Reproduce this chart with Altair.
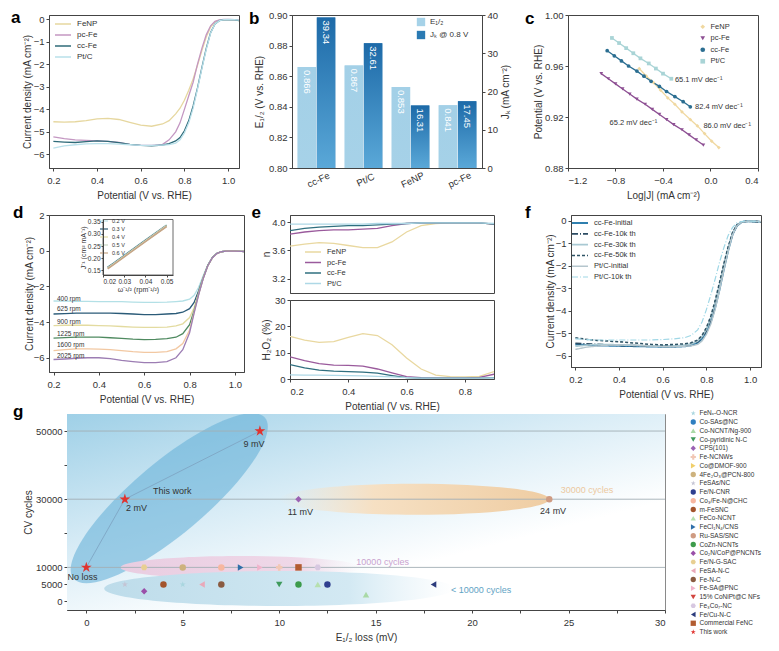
import altair as alt
import pandas as pd

FONT = "Liberation Sans"
INK = "#333333"
FRAME = "#444444"

SAMPLES = ["FeNP", "pc-Fe", "cc-Fe", "Pt/C"]

# ---------------- (a) LSV ----------------
A_POT = [0.2, 0.25, 0.3, 0.35, 0.4, 0.45, 0.5, 0.55, 0.6, 0.65, 0.7, 0.73, 0.76, 0.78, 0.8,
         0.82, 0.84, 0.86, 0.88, 0.9, 0.92, 0.94, 0.96, 0.98, 1.0, 1.03, 1.05]
A_FENP = [-4.55, -4.57, -4.55, -4.5, -4.42, -4.4, -4.45, -4.58, -4.7, -4.75, -4.65, -4.5, -4.2, -3.95,
          -3.6, -3.15, -2.65, -2.05, -1.4, -0.8, -0.35, -0.12, -0.05, -0.04, -0.04, -0.05, -0.07]
A_PCFE = [-5.22, -5.3, -5.35, -5.38, -5.4, -5.42, -5.47, -5.55, -5.6, -5.6, -5.55, -5.35, -5.0, -4.6,
          -4.0, -3.4, -2.8, -2.0, -1.3, -0.7, -0.3, -0.1, -0.04, -0.02, -0.02, -0.03, -0.05]
A_CCFE = [-5.42, -5.45, -5.47, -5.43, -5.4, -5.42, -5.48, -5.55, -5.6, -5.62, -5.58, -5.52, -5.4, -5.25,
          -4.95, -4.5, -3.85, -3.05, -2.15, -1.3, -0.6, -0.22, -0.07, -0.03, -0.03, -0.04, -0.07]
A_PTC = [-5.72, -5.62, -5.57, -5.53, -5.52, -5.52, -5.54, -5.57, -5.6, -5.6, -5.58, -5.56, -5.5, -5.35,
         -5.05, -4.6, -3.95, -3.1, -2.2, -1.35, -0.62, -0.22, -0.07, -0.03, -0.02, -0.03, -0.05]
A_COLORS = ["#e6d79f", "#c497c2", "#2f6b79", "#b9e0ea"]
A_XTICKS = [0.2, 0.4, 0.6, 0.8, 1.0]
A_YTICKS = [0, -1, -2, -3, -4, -5, -6]

# ---------------- (b) bars ----------------
B_CATS = ["cc-Fe", "Pt/C", "FeNP", "pc-Fe"]
B_E = [0.866, 0.867, 0.853, 0.841]
B_J = [39.34, 32.61, 16.31, 17.45]
B_E_LABELS = ["0.866", "0.867", "0.853", "0.841"]
B_J_LABELS = ["39.34", "32.61", "16.31", "17.45"]
B_E_TICKS = [0.80, 0.82, 0.84, 0.86, 0.88, 0.90]
B_J_TICKS = [0, 10, 20, 30, 40]
E_NAME = "E₁/₂"
J_NAME = "Jₖ @ 0.8 V"

# ---------------- (c) Tafel ----------------
C_FENP_X = [-0.60, -0.54, -0.48, -0.42, -0.36, -0.30, -0.24, -0.17, -0.11, -0.05, 0.01, 0.07]
C_FENP_Y = [0.958, 0.952, 0.947, 0.941, 0.935, 0.930, 0.924, 0.918, 0.913, 0.907, 0.901, 0.896]
C_PCFE_X = [-0.92, -0.86, -0.80, -0.74, -0.68, -0.62, -0.55, -0.49, -0.43, -0.37, -0.31, -0.24, -0.18, -0.12, -0.06]
C_PCFE_Y = [0.954, 0.950, 0.946, 0.942, 0.938, 0.934, 0.930, 0.926, 0.922, 0.918, 0.914, 0.910, 0.906, 0.902, 0.898]
C_CCFE_X = [-0.87, -0.81, -0.75, -0.69, -0.62, -0.56, -0.50, -0.43, -0.37, -0.30, -0.23, -0.17]
C_CCFE_Y = [0.972, 0.968, 0.964, 0.960, 0.956, 0.952, 0.948, 0.944, 0.940, 0.936, 0.932, 0.928]
C_PTC_X = [-0.83, -0.77, -0.71, -0.65, -0.59, -0.52, -0.46, -0.40, -0.33]
C_PTC_Y = [0.982, 0.978, 0.974, 0.970, 0.966, 0.962, 0.958, 0.954, 0.950]
C_COLORS = ["#f0d8a0", "#8d4f93", "#2b6e91", "#a9d4d6"]
C_SHAPES = ["diamond", "triangle-down", "circle", "square"]
C_SLOPE_TXT = ["65.1 mV dec⁻¹", "82.4 mV dec⁻¹", "86.0 mV dec⁻¹", "65.2 mV dec⁻¹"]
C_SLOPE_X = [-0.30, -0.13, -0.06, -0.85]
C_SLOPE_Y = [0.949, 0.928, 0.913, 0.915]
C_XTICKS = [-1.2, -0.8, -0.4, 0.0, 0.4]
C_YTICKS = [0.88, 0.92, 0.96, 1.00]

# ---------------- (d) RDE ----------------
D_POT = [0.2, 0.25, 0.3, 0.35, 0.4, 0.45, 0.5, 0.55, 0.6, 0.65, 0.7, 0.74, 0.77, 0.8, 0.82,
         0.84, 0.86, 0.88, 0.9, 0.92, 0.94, 0.96, 0.98, 1.0, 1.03, 1.05]
D_400 = [-2.82, -2.83, -2.84, -2.84, -2.85, -2.85, -2.86, -2.88, -2.9, -2.9, -2.88, -2.85, -2.82, -2.72,
         -2.5, -2.05, -1.4, -0.8, -0.38, -0.15, -0.06, -0.03, -0.03, -0.03, -0.04, -0.05]
D_625 = [-3.55, -3.53, -3.5, -3.5, -3.5, -3.5, -3.52, -3.55, -3.58, -3.58, -3.55, -3.52, -3.45, -3.25,
         -2.9, -2.25, -1.5, -0.83, -0.39, -0.15, -0.06, -0.03, -0.03, -0.03, -0.04, -0.05]
D_900 = [-4.2, -4.18, -4.17, -4.18, -4.2, -4.22, -4.25, -4.28, -4.3, -4.3, -4.28, -4.22, -4.1, -3.75,
         -3.2, -2.35, -1.52, -0.84, -0.4, -0.16, -0.06, -0.03, -0.03, -0.03, -0.04, -0.05]
D_1225 = [-4.9, -4.87, -4.85, -4.84, -4.85, -4.88, -4.92, -4.96, -4.98, -4.97, -4.93, -4.85, -4.65, -4.15,
          -3.35, -2.42, -1.55, -0.85, -0.4, -0.16, -0.06, -0.03, -0.03, -0.03, -0.04, -0.05]
D_1600 = [-5.6, -5.55, -5.5, -5.5, -5.52, -5.55, -5.6, -5.66, -5.7, -5.7, -5.66, -5.5, -5.2, -4.45,
          -3.45, -2.45, -1.56, -0.86, -0.41, -0.16, -0.06, -0.03, -0.03, -0.03, -0.04, -0.05]
D_2025 = [-6.1, -6.07, -6.03, -6.0, -6.0, -6.05, -6.15, -6.22, -6.28, -6.28, -6.22, -6.0, -5.55, -4.6,
          -3.5, -2.47, -1.57, -0.86, -0.41, -0.16, -0.06, -0.03, -0.03, -0.03, -0.04, -0.05]
D_RPM = ["400 rpm", "625 rpm", "900 rpm", "1225 rpm", "1600 rpm", "2025 rpm"]
D_COLORS = ["#b3e0e6", "#2b5b78", "#e3dba0", "#4f8a60", "#f2c8a2", "#9c7db3"]
D_LABEL_X = [0.215, 0.215, 0.215, 0.215, 0.215, 0.215]
D_LABEL_Y = [-2.72, -3.27, -4.02, -4.66, -5.31, -5.91]
D_XTICKS = [0.2, 0.4, 0.6, 0.8, 1.0]
D_YTICKS = [2, 0, -2, -4, -6]
# inset (K-L plot)
INS_W = [0.0222, 0.025, 0.0286, 0.0333, 0.04, 0.05]
INS_02 = [0.163, 0.180, 0.203, 0.233, 0.275, 0.338]
INS_03 = [0.161, 0.178, 0.201, 0.231, 0.273, 0.336]
INS_04 = [0.159, 0.176, 0.199, 0.229, 0.271, 0.334]
INS_05 = [0.158, 0.175, 0.198, 0.228, 0.270, 0.333]
INS_06 = [0.156, 0.173, 0.196, 0.226, 0.268, 0.331]
INS_NAMES = ["0.2 V", "0.3 V", "0.4 V", "0.5 V", "0.6 V"]
INS_COLORS = ["#bfe2e8", "#2d5b73", "#e2dba2", "#c9d6c4", "#c6a586"]
INS_XDOM = [0.02, 0.053]
INS_YDOM = [0.13, 0.36]
INS_XTICKS = [0.02, 0.03, 0.04, 0.05]
INS_YTICKS = [0.15, 0.20, 0.25, 0.30, 0.35]

# ---------------- (e) RRDE ----------------
E_POT = [0.2, 0.25, 0.3, 0.35, 0.4, 0.45, 0.5, 0.55, 0.6, 0.65, 0.7, 0.75, 0.8, 0.85, 0.9]
E_N_FENP = [3.66, 3.69, 3.71, 3.70, 3.67, 3.64, 3.64, 3.72, 3.86, 3.95, 3.98, 3.99, 3.99, 3.99, 3.97]
E_N_PCFE = [3.83, 3.86, 3.88, 3.89, 3.89, 3.90, 3.91, 3.95, 3.98, 3.99, 3.99, 3.99, 3.99, 3.99, 3.97]
E_N_CCFE = [3.88, 3.91, 3.93, 3.94, 3.95, 3.95, 3.96, 3.97, 3.98, 3.99, 3.99, 3.99, 3.99, 3.99, 3.97]
E_N_PTC = [3.97, 3.97, 3.97, 3.97, 3.97, 3.97, 3.98, 3.98, 3.98, 3.99, 3.99, 3.99, 3.99, 3.99, 3.98]
E_H_FENP = [16.2, 14.8, 13.9, 14.2, 15.8, 17.2, 16.5, 13.0, 8.0, 3.8, 1.5, 0.9, 0.8, 1.0, 2.8]
E_H_PCFE = [8.4, 7.0, 5.8, 5.3, 5.2, 4.9, 3.8, 2.3, 0.9, 0.5, 0.4, 0.4, 0.4, 0.6, 1.8]
E_H_CCFE = [5.5, 4.2, 3.4, 3.0, 2.8, 2.6, 2.2, 1.3, 0.5, 0.3, 0.3, 0.3, 0.3, 0.3, 0.5]
E_H_PTC = [1.6, 1.5, 1.5, 1.4, 1.3, 1.2, 1.0, 0.8, 0.5, 0.3, 0.3, 0.3, 0.3, 0.3, 0.4]
E_COLORS = ["#e9d8a0", "#9a5a9c", "#2f6f7f", "#aed8e6"]
E_XTICKS = [0.2, 0.4, 0.6, 0.8]
E_NTICKS = [3.2, 3.6, 4.0]
E_HTICKS = [0, 10, 20, 30]

# ---------------- (f) stability ----------------
F_POT = A_POT
F_CC0 = [-5.5, -5.52, -5.54, -5.55, -5.56, -5.57, -5.58, -5.59, -5.6, -5.6, -5.58, -5.54, -5.42, -5.25,
         -4.95, -4.5, -3.85, -3.05, -2.15, -1.3, -0.6, -0.22, -0.07, -0.03, -0.03, -0.04, -0.06]
F_CC10 = [-5.45, -5.48, -5.5, -5.52, -5.54, -5.55, -5.56, -5.57, -5.58, -5.58, -5.55, -5.5, -5.38, -5.2,
          -4.88, -4.4, -3.75, -2.95, -2.05, -1.25, -0.57, -0.2, -0.07, -0.03, -0.03, -0.04, -0.06]
F_CC30 = [-5.58, -5.53, -5.5, -5.5, -5.52, -5.53, -5.55, -5.56, -5.57, -5.56, -5.53, -5.48, -5.35, -5.15,
          -4.82, -4.32, -3.65, -2.85, -2.0, -1.2, -0.55, -0.2, -0.07, -0.03, -0.03, -0.04, -0.06]
F_CC50 = [-5.2, -5.27, -5.32, -5.35, -5.38, -5.42, -5.46, -5.5, -5.52, -5.5, -5.47, -5.42, -5.3, -5.1,
          -4.75, -4.25, -3.55, -2.75, -1.9, -1.15, -0.52, -0.19, -0.07, -0.03, -0.03, -0.04, -0.06]
F_PT0 = [-5.72, -5.62, -5.57, -5.53, -5.52, -5.52, -5.54, -5.57, -5.6, -5.6, -5.58, -5.56, -5.5, -5.35,
         -5.05, -4.6, -3.95, -3.1, -2.2, -1.35, -0.62, -0.22, -0.07, -0.03, -0.02, -0.03, -0.05]
F_PT10 = [-5.25, -5.28, -5.3, -5.3, -5.3, -5.3, -5.3, -5.3, -5.28, -5.25, -5.2, -5.1, -4.85, -4.5,
          -3.95, -3.3, -2.6, -1.85, -1.2, -0.65, -0.3, -0.1, -0.04, -0.02, -0.02, -0.03, -0.05]
F_NAMES = ["cc-Fe-initial", "cc-Fe-10k th", "cc-Fe-30k th", "cc-Fe-50k th", "Pt/C-initial", "Pt/C-10k th"]
F_COLORS = ["#2f7fae", "#2c4c63", "#a9c9d3", "#2f5466", "#b5c6cd", "#9fd7e6"]
F_DASH = [[1, 0], [6, 2, 1, 2], [1, 0], [3, 2], [1, 0], [6, 2, 1, 2]]
F_WIDTH = [2.0, 1.2, 1.2, 1.2, 1.2, 1.2]

# ---------------- (g) comparison ----------------
STAR = "M0,-1L0.2245,-0.309L0.951,-0.309L0.363,0.118L0.588,0.809L0,0.382L-0.588,0.809L-0.363,0.118L-0.951,-0.309L-0.2245,-0.309Z"
HEX = "M1,0L0.5,0.866L-0.5,0.866L-1,0L-0.5,-0.866L0.5,-0.866Z"
G_MATERIALS = ["FeNₓ-O-NCR", "Co-SAs@NC", "Co-NCNT/Ng-900", "Co-pyridinic N-C", "CPS(101)", "Fe-NCNWs",
               "Co@DMOF-900", "4Fe₂O₃@PCN-800", "FeSAs/NC", "Fe/N-CNR", "Co₃/Fe-N@CHC", "m-FeSNC",
               "FeCo-NCNT", "FeCl₁N₄/CNS", "Ru-SAS/SNC", "CoZn-NCNTs", "Co₂N/CoP@PNCNTs", "Fe/N-G-SAC",
               "FeSA-N-C", "Fe-N-C", "Fe-SA@PNC", "15% CoNiPt@C NFs", "Fe₃Co₇-NC", "Fe/Cu-N-C",
               "Commercial FeNC", "This work"]
G_COLORS = ["#a9d6df", "#2f7fc0", "#a9d9a6", "#3f9a5c", "#9b62b3", "#f1c7b5", "#f0cf6a", "#cdb27e",
            "#c4c4d4", "#2f3f8f", "#f7b7a0", "#a3542c", "#b6e0ae", "#2f6faa", "#cf9b82", "#3d9b4b",
            "#9a4fa9", "#e8cf92", "#e9a9b9", "#8a5b41", "#f1b3cb", "#d2453f", "#d7c8e1", "#2b3b7c",
            "#b25c31", "#e0332f"]
G_SHAPES = [STAR, "circle", "triangle-up", "triangle-down", "diamond", "cross", "triangle-right", "circle",
            STAR, "circle", "circle", "circle", "triangle-up", "triangle-right", "circle", "circle",
            "diamond", HEX, "triangle-left", "circle", "triangle-right", "triangle-down", HEX,
            "triangle-left", "square", STAR]
G_PT_NAME = ["Fe/N-G-SAC", "4Fe₂O₃@PCN-800", "Co₃/Fe-N@CHC", "FeCl₁N₄/CNS", "Fe-SA@PNC", "Fe-NCNWs",
             "Commercial FeNC", "Fe₃Co₇-NC", "FeSAs/NC", "Co₂N/CoP@PNCNTs", "m-FeSNC", "FeNₓ-O-NCR",
             "FeSA-N-C", "Fe-N-C", "Co-pyridinic N-C", "CoZn-NCNTs", "FeCo-NCNT", "Fe/N-CNR",
             "Co-NCNT/Ng-900", "Fe/Cu-N-C", "CPS(101)", "Ru-SAS/SNC"]
G_PT_X = [3, 5, 7, 8, 9, 10, 11, 12, 2, 3, 4, 5, 6, 7, 10, 11, 12, 12.5, 14.5, 18, 11, 24]
G_PT_Y = [10000, 10000, 10000, 10000, 10000, 10000, 10000, 10000, 5000, 3000, 5000, 5000, 5000, 5000,
          5000, 5000, 5000, 5000, 2000, 5000, 30000, 30000]
THIS_X = [0, 2, 9]
THIS_Y = [10000, 30000, 50000]
G_RULES = [10000, 30000, 50000]
G_XDOM = [-1, 30]
G_YDOM = [-2500, 55000]
G_XTICKS = [0, 2.5, 5, 7.5, 10, 12.5, 15, 17.5, 20, 22.5, 25, 27.5, 30]
G_YTICKS = [0, 5000, 10000, 20000, 30000, 40000, 50000]
G_LBL_TXT = ["No loss", "2 mV", "9 mV", "This work", "11 mV", "24 mV"]
G_LBL_X = [-0.2, 2.6, 8.7, 4.45, 11.1, 24.2]
G_LBL_Y = [7300, 27300, 46200, 32400, 26200, 26400]
G_CYC_TXT = ["30000 cycles", "10000 cycles", "< 10000 cycles"]
G_CYC_X = [24.6, 14.0, 18.9]
G_CYC_Y = [32700, 11500, 3400]
G_CYC_COL = ["#ecc9a0", "#c9a3cf", "#5fa3c4"]
# ellipse centres: this work, 30000 band, 10000 band, <10000 band
ELL_X = [4.3, 17.0, 8.0, 10.0]
ELL_Y = [30300, 30000, 10000, 3800]


def long_df(xs, cols, names, xn, yn, sn="s"):
    rows = []
    for name, ys in zip(names, cols):
        for xv, yv in zip(xs, ys):
            rows.append({xn: xv, yn: yv, sn: name})
    return pd.DataFrame(rows)


def letter(t, dx, off):
    return alt.TitleParams(text=t, anchor="start", frame="bounds", fontSize=17, fontWeight="bold",
                           color="#000000", dx=dx, offset=off, font=FONT)


LINE_SYM = "M-2,0L2,0"


def line_legend(x, y, fs=8, rp=2.0):
    return alt.Legend(title=None, orient="none", legendX=x, legendY=y, symbolType=LINE_SYM,
                      symbolSize=64, symbolStrokeWidth=1.5, labelOffset=9, labelFontSize=fs,
                      rowPadding=rp, padding=0)


def grad(stops, x1=0, y1=0, x2=0, y2=1):
    return alt.Gradient(gradient="linear",
                        stops=[alt.GradientStop(color=c, offset=o) for o, c in stops],
                        x1=x1, y1=y1, x2=x2, y2=y2)


def indep(ch):
    return ch.resolve_scale(color="independent", shape="independent",
                            strokeDash="independent", strokeWidth="independent")


def spacer(w):
    return alt.Chart(pd.DataFrame({"z": [0]})).mark_point(opacity=0).properties(
        width=w, height=10, view=alt.ViewBackground(strokeOpacity=0))


# ======== (a) ========
a_df = long_df(A_POT, [A_FENP, A_PCFE, A_CCFE, A_PTC], SAMPLES, "v", "j")
chart_a = alt.Chart(a_df).mark_line(strokeWidth=1.3, clip=True).encode(
    x=alt.X("v:Q", scale=alt.Scale(domain=[0.18, 1.05], nice=False, zero=False),
            axis=alt.Axis(title="Potential (V vs. RHE)", values=A_XTICKS, format=".1f")),
    y=alt.Y("j:Q", scale=alt.Scale(domain=[-6.6, 0.18], nice=False, zero=False),
            axis=alt.Axis(title="Current density (mA cm⁻²)", values=A_YTICKS, format="d",
                          minExtent=14, maxExtent=14, titlePadding=3)),
    color=alt.Color("s:N", scale=alt.Scale(domain=SAMPLES, range=A_COLORS), legend=line_legend(9, 4)),
).properties(width=190, height=153, title=letter("a", -11, -13))

# ======== (b) ========
b_e_df = pd.DataFrame({"cat": B_CATS, "val": B_E, "lab": B_E_LABELS, "ser": E_NAME})
b_j_df = pd.DataFrame({"cat": B_CATS, "val": B_J, "lab": B_J_LABELS, "ser": J_NAME})
bx = alt.X("cat:N", sort=B_CATS, scale=alt.Scale(paddingInner=0.2, paddingOuter=0.12),
           axis=alt.Axis(title=None, labelAngle=335, labelAlign="center", labelBaseline="top",
                         ticks=False, labelPadding=7, labelFontSize=9.5))
bxo = alt.XOffset("ser:N", scale=alt.Scale(domain=[E_NAME, J_NAME], paddingInner=0.04))
bcol = alt.Color("ser:N", scale=alt.Scale(domain=[E_NAME, J_NAME], range=["#a6d2e8", "#2a7ab3"]),
                 legend=alt.Legend(title=None, orient="none", legendX=124, legendY=2, symbolType="square",
                                   symbolSize=70, labelFontSize=8, rowPadding=3, padding=0))
ey = alt.Y("val:Q", scale=alt.Scale(domain=[0.80, 0.90], nice=False, zero=False),
           axis=alt.Axis(title="E₁/₂ (V vs. RHE)", orient="left", values=B_E_TICKS, format=".2f",
                         minExtent=24, maxExtent=24, titlePadding=4))
jy = alt.Y("val:Q", scale=alt.Scale(domain=[0, 40], nice=False),
           axis=alt.Axis(title="Jₖ (mA cm⁻²)", orient="right", values=B_J_TICKS, format="d",
                         minExtent=14, maxExtent=14, titlePadding=4, titleAngle=270, titleBaseline="top"))
GRAD_LIGHT = grad([(0, "#a3d0e7"), (1, "#cfe7f3")])
GRAD_DARK = grad([(0, "#1d6aa8"), (1, "#5aa8d8")])
e_base = alt.Chart(b_e_df).encode(x=bx, xOffset=bxo, y=ey)
j_base = alt.Chart(b_j_df).encode(x=bx, xOffset=bxo, y=jy)
e_layer = alt.layer(
    e_base.mark_bar(clip=True).encode(color=bcol),
    e_base.mark_bar(clip=True, color=GRAD_LIGHT),
    e_base.mark_text(angle=90, align="left", baseline="middle", dx=3, color="white", fontSize=9.5)
    .encode(text="lab:N"),
)
j_layer = alt.layer(
    j_base.mark_bar(clip=True).encode(color=bcol),
    j_base.mark_bar(clip=True, color=GRAD_DARK),
    j_base.mark_text(angle=90, align="left", baseline="middle", dx=3, color="white", fontSize=9.5)
    .encode(text="lab:N"),
)
chart_b = alt.layer(e_layer, j_layer).resolve_scale(y="independent").properties(
    width=190, height=153, title=letter("b", -5, -18))

# ======== (c) ========
c_rows = []
for name, xs, ys in zip(SAMPLES, [C_FENP_X, C_PCFE_X, C_CCFE_X, C_PTC_X], [C_FENP_Y, C_PCFE_Y, C_CCFE_Y, C_PTC_Y]):
    for xv, yv in zip(xs, ys):
        c_rows.append({"lj": xv, "p": yv, "s": name})
c_df = pd.DataFrame(c_rows)
c_leg = alt.Legend(title=None, orient="none", legendX=131, legendY=8, symbolSize=22, labelFontSize=7.5,
                   rowPadding=2.5, padding=0, symbolStrokeWidth=0)
cx = alt.X("lj:Q", scale=alt.Scale(domain=[-1.2, 0.4], nice=False, zero=False),
           axis=alt.Axis(title="Log|J| (mA cm⁻²)", values=C_XTICKS, format=".1f"))
cy = alt.Y("p:Q", scale=alt.Scale(domain=[0.88, 1.00], nice=False, zero=False),
           axis=alt.Axis(title="Potential (V vs. RHE)", values=C_YTICKS, format=".2f",
                         minExtent=21, maxExtent=21, titlePadding=4))
ccol = alt.Color("s:N", scale=alt.Scale(domain=SAMPLES, range=C_COLORS), legend=c_leg)
cshape = alt.Shape("s:N", scale=alt.Scale(domain=SAMPLES, range=C_SHAPES), legend=c_leg)
c_lines = alt.Chart(c_df).mark_line(strokeWidth=1.3).encode(x=cx, y=cy, color=ccol)
c_pts = alt.Chart(c_df).mark_point(filled=True, size=14, opacity=1).encode(x=cx, y=cy, color=ccol, shape=cshape)
c_txt_df = pd.DataFrame({"lj": C_SLOPE_X, "p": C_SLOPE_Y, "t": C_SLOPE_TXT})
c_txt = alt.Chart(c_txt_df).mark_text(align="left", baseline="middle", fontSize=7.5, color=INK).encode(
    x=cx, y=cy, text="t:N")
chart_c = alt.layer(c_lines, c_pts, c_txt).properties(width=190, height=153, title=letter("c", -8, -18))

# ======== (d) ========
d_df = long_df(D_POT, [D_400, D_625, D_900, D_1225, D_1600, D_2025], D_RPM, "v", "j", "r")
dx_enc = alt.X("v:Q", scale=alt.Scale(domain=[0.18, 1.04], nice=False, zero=False),
               axis=alt.Axis(title="Potential (V vs. RHE)", values=D_XTICKS, format=".1f", orient="bottom"))
dy_enc = alt.Y("j:Q", scale=alt.Scale(domain=[-6.8, 2.0], nice=False, zero=False),
               axis=alt.Axis(title="Current density (mA cm⁻²)", values=D_YTICKS, format="d", orient="left",
                             minExtent=13, maxExtent=13, titlePadding=2))
d_lines = alt.Chart(d_df).mark_line(strokeWidth=1.3, clip=True).encode(
    x=dx_enc, y=dy_enc,
    color=alt.Color("r:N", scale=alt.Scale(domain=D_RPM, range=D_COLORS), legend=None))
d_lab_df = pd.DataFrame({"v": D_LABEL_X, "j": D_LABEL_Y, "t": D_RPM})
d_labels = alt.Chart(d_lab_df).mark_text(align="left", baseline="middle", fontSize=6.5, color=INK).encode(
    x=dx_enc, y=dy_enc, text="t:N")
D_H = 157
ins_x = alt.X("w:Q", scale=alt.Scale(domain=INS_XDOM, range=[54, 124], nice=False, zero=False),
              axis=alt.Axis(orient="bottom", offset=-(D_H - 60), values=INS_XTICKS, format=".2f",
                            title="ω⁻¹/² (rpm⁻¹/²)", labelFontSize=6.5, titleFontSize=7, tickSize=2,
                            labelPadding=1, titlePadding=1, zindex=1))
ins_y = alt.Y("k:Q", scale=alt.Scale(domain=INS_YDOM, range=[60, 4.5], nice=False, zero=False),
              axis=alt.Axis(orient="left", offset=-54, values=INS_YTICKS, format=".2f",
                            title="J⁻¹ (cm² mA⁻¹)", labelFontSize=6.5, titleFontSize=7, tickSize=2,
                            labelPadding=1, titlePadding=1, zindex=1))
ins_box_df = pd.DataFrame({"w": [INS_XDOM[0]], "w2": [INS_XDOM[1]], "k": [INS_YDOM[0]], "k2": [INS_YDOM[1]]})
ins_box = alt.Chart(ins_box_df).mark_rect(fill="white", stroke=FRAME, strokeWidth=0.8).encode(
    x=ins_x, x2="w2:Q", y=ins_y, y2="k2:Q")
ins_df = long_df(INS_W, [INS_02, INS_03, INS_04, INS_05, INS_06], INS_NAMES, "w", "k", "e")
ins_lines = alt.Chart(ins_df).mark_line(strokeWidth=1.6).encode(
    x=ins_x, y=ins_y,
    color=alt.Color("e:N", scale=alt.Scale(domain=INS_NAMES, range=INS_COLORS),
                    legend=alt.Legend(title=None, orient="none", legendX=52, legendY=3, symbolType=LINE_SYM,
                                      symbolSize=16, symbolStrokeWidth=1.2, labelOffset=5, labelFontSize=5.5,
                                      rowPadding=1, padding=0)))
chart_d = alt.layer(alt.layer(d_lines, d_labels), alt.layer(ins_box, ins_lines)).resolve_scale(
    x="independent", y="independent", color="independent").properties(width=195, height=D_H,
                                                                      title=letter("d", -11, -12))

# ======== (e) ========
ex_scale = alt.Scale(domain=[0.2, 0.9], nice=False, zero=False)
e_n_df = long_df(E_POT, [E_N_FENP, E_N_PCFE, E_N_CCFE, E_N_PTC], SAMPLES, "v", "n")
e_h_df = long_df(E_POT, [E_H_FENP, E_H_PCFE, E_H_CCFE, E_H_PTC], SAMPLES, "v", "h")
e_top = alt.Chart(e_n_df).mark_line(strokeWidth=1.3, clip=True).encode(
    x=alt.X("v:Q", scale=ex_scale, axis=None),
    y=alt.Y("n:Q", scale=alt.Scale(domain=[3.0, 4.1], nice=False, zero=False),
            axis=alt.Axis(title="n", values=E_NTICKS, format=".1f", minExtent=17, maxExtent=17, titlePadding=2)),
    color=alt.Color("s:N", scale=alt.Scale(domain=SAMPLES, range=E_COLORS),
                    legend=line_legend(18, 32, fs=7.5, rp=1.5)),
).properties(width=204, height=78)
e_bot = alt.Chart(e_h_df).mark_line(strokeWidth=1.3, clip=True).encode(
    x=alt.X("v:Q", scale=ex_scale, axis=alt.Axis(title="Potential (V vs. RHE)", values=E_XTICKS, format=".1f")),
    y=alt.Y("h:Q", scale=alt.Scale(domain=[0, 30], nice=False, zero=False),
            axis=alt.Axis(title="H₂O₂ (%)", values=E_HTICKS, format="d", minExtent=17, maxExtent=17,
                          titlePadding=2)),
    color=alt.Color("s:N", scale=alt.Scale(domain=SAMPLES, range=E_COLORS), legend=None),
).properties(width=204, height=79)
chart_e = indep(alt.vconcat(e_top, e_bot, spacing=0, title=letter("e", -9, -7)))

# ======== (f) ========
f_df = long_df(F_POT, [F_CC0, F_CC10, F_CC30, F_CC50, F_PT0, F_PT10], F_NAMES, "v", "j", "c")
f_leg = alt.Legend(title=None, orient="none", legendX=4, legendY=3, symbolType=LINE_SYM, symbolSize=64,
                   symbolStrokeWidth=1.3, labelOffset=9, labelFontSize=7.5, rowPadding=1.8, padding=0)
chart_f = alt.Chart(f_df).mark_line(clip=True).encode(
    x=alt.X("v:Q", scale=alt.Scale(domain=[0.18, 1.05], nice=False, zero=False),
            axis=alt.Axis(title="Potential (V vs. RHE)", values=A_XTICKS, format=".1f")),
    y=alt.Y("j:Q", scale=alt.Scale(domain=[-6.5, 0.25], nice=False, zero=False),
            axis=alt.Axis(title="Current density (mA cm⁻²)", values=A_YTICKS, format="d",
                          minExtent=13, maxExtent=13, titlePadding=3)),
    color=alt.Color("c:N", scale=alt.Scale(domain=F_NAMES, range=F_COLORS), legend=f_leg),
    strokeDash=alt.StrokeDash("c:N", scale=alt.Scale(domain=F_NAMES, range=F_DASH), legend=f_leg),
    strokeWidth=alt.StrokeWidth("c:N", scale=alt.Scale(domain=F_NAMES, range=F_WIDTH), legend=None),
).properties(width=190, height=152, title=letter("f", -20, -7))

# ======== (g) ========
gx = alt.X("x:Q", scale=alt.Scale(domain=G_XDOM, nice=False, zero=False),
           axis=alt.Axis(title="E₁/₂ loss (mV)", values=G_XTICKS, format="~g", titlePadding=6,
                         labelExpr="datum.value % 5 == 0 ? datum.label : ''"))
gy = alt.Y("y:Q", scale=alt.Scale(domain=G_YDOM, nice=False, zero=False),
           axis=alt.Axis(title="CV cycles", values=G_YTICKS, format="d",
                         labelExpr="(datum.value == 20000 || datum.value == 40000) ? '' : datum.label",
                         minExtent=31, maxExtent=31, titlePadding=3))
bg_df = pd.DataFrame({"x": [G_XDOM[0]], "x2": [G_XDOM[1]], "y": [G_YDOM[0]], "y2": [G_YDOM[1]]})
g_bg = alt.Chart(bg_df).mark_rect(fill=grad([(0, "#9fd0e7"), (0.45, "#d8ecf6"), (0.8, "#ffffff")],
                                            x1=0, y1=0, x2=0.75, y2=0.95), strokeWidth=0).encode(
    x=gx, x2="x2:Q", y=gy, y2="y2:Q")


def ell_layer(i, ratio, size, fill, angle=0, opacity=1.0):
    df = pd.DataFrame({"x": [ELL_X[i]], "y": [ELL_Y[i]]})
    path = f"M-1,0A1,{ratio},0,1,0,1,0A1,{ratio},0,1,0,-1,0Z"
    kw = dict(shape=path, size=size, filled=True, fill=fill, strokeWidth=0, opacity=opacity, clip=True)
    if angle:
        kw["angle"] = angle
    return alt.Chart(df).mark_point(**kw).encode(x=gx, y=gy)


g_ell = [
    ell_layer(0, 0.29, 62500, "#69b2d9", angle=320, opacity=0.6),
    ell_layer(1, 0.115, 72900, grad([(0, "rgba(246,226,200,0)"), (0.35, "#f6e0c3"), (1, "#efcda3")], x2=1, y2=0)),
    ell_layer(2, 0.095, 57600, grad([(0, "#e9cde1"), (0.75, "#efd8e8"), (1, "rgba(245,230,240,0)")], x2=1, y2=0)),
    ell_layer(3, 0.1, 122500, grad([(0, "#bddcea"), (0.7, "#d3e9f3"), (1, "rgba(225,240,248,0)")], x2=1, y2=0)),
]
rule_df = pd.DataFrame({"y": G_RULES})
g_rules = alt.Chart(rule_df).mark_rule(color="#a3afb6", strokeWidth=1, opacity=0.9).encode(y=gy)
this_df = pd.DataFrame({"x": THIS_X, "y": THIS_Y})
g_thisline = alt.Chart(this_df).mark_line(color="#7fa6c4", strokeWidth=0.9).encode(x=gx, y=gy)
pt_df = pd.DataFrame({"x": G_PT_X, "y": G_PT_Y, "m": G_PT_NAME})
g_leg = alt.Legend(title=None, orient="none", legendX=623, legendY=-4, symbolSize=28, labelFontSize=6.5,
                   rowPadding=1.75, labelOffset=3, padding=0, labelLimit=150, symbolStrokeWidth=0)
g_pts = alt.Chart(pt_df).mark_point(filled=True, size=42, opacity=1).encode(
    x=gx, y=gy,
    color=alt.Color("m:N", scale=alt.Scale(domain=G_MATERIALS, range=G_COLORS), legend=g_leg),
    shape=alt.Shape("m:N", scale=alt.Scale(domain=G_MATERIALS, range=G_SHAPES), legend=g_leg))
g_stars = alt.Chart(this_df).mark_point(shape=STAR, filled=True, size=130, color="#e0332f", opacity=1).encode(
    x=gx, y=gy)
lbl_df = pd.DataFrame({"x": G_LBL_X, "y": G_LBL_Y, "t": G_LBL_TXT})
g_lbl = alt.Chart(lbl_df).mark_text(align="center", baseline="middle", fontSize=9, color=INK).encode(
    x=gx, y=gy, text="t:N")
g_cyc = []
for i in range(3):
    cdf = pd.DataFrame({"x": [G_CYC_X[i]], "y": [G_CYC_Y[i]], "t": [G_CYC_TXT[i]]})
    g_cyc.append(alt.Chart(cdf).mark_text(align="left", baseline="middle", fontSize=9, color=G_CYC_COL[i])
                 .encode(x=gx, y=gy, text="t:N"))
chart_g = alt.layer(g_bg, *g_ell, g_rules, g_thisline, g_pts, g_stars, g_lbl, *g_cyc).properties(
    width=598, height=196, title=letter("g", -10, -11), view=alt.ViewBackground(stroke="#8a8a8a"))

# ======== assemble ========
row1 = indep(alt.hconcat(indep(alt.hconcat(chart_a, chart_b, spacing=8)), chart_c, spacing=13))
row2 = indep(alt.hconcat(chart_d, indep(alt.hconcat(chart_e, chart_f, spacing=29)), spacing=6))
row3 = indep(alt.hconcat(spacer(1), chart_g, spacing=-41))
top2 = indep(alt.concat(row1, row2, columns=1, spacing=2, align="none"))
full = indep(alt.concat(top2, row3, columns=1, spacing=-10, align="none")).properties(
    padding={"left": 2, "top": 0, "right": 0, "bottom": 0}
).configure(font=FONT).configure_view(stroke=FRAME, strokeWidth=1).configure_axis(
    labelFontSize=9.5, titleFontSize=10, labelColor=INK, titleColor=INK, domainColor=FRAME,
    tickColor=FRAME, tickSize=3, labelPadding=2, titleFontWeight="normal", grid=False
).configure_axisX(labelPadding=4, titlePadding=6).configure_legend(labelColor=INK, labelFont=FONT)

full.save("out.html", embed_options={"renderer": "svg", "actions": False})
